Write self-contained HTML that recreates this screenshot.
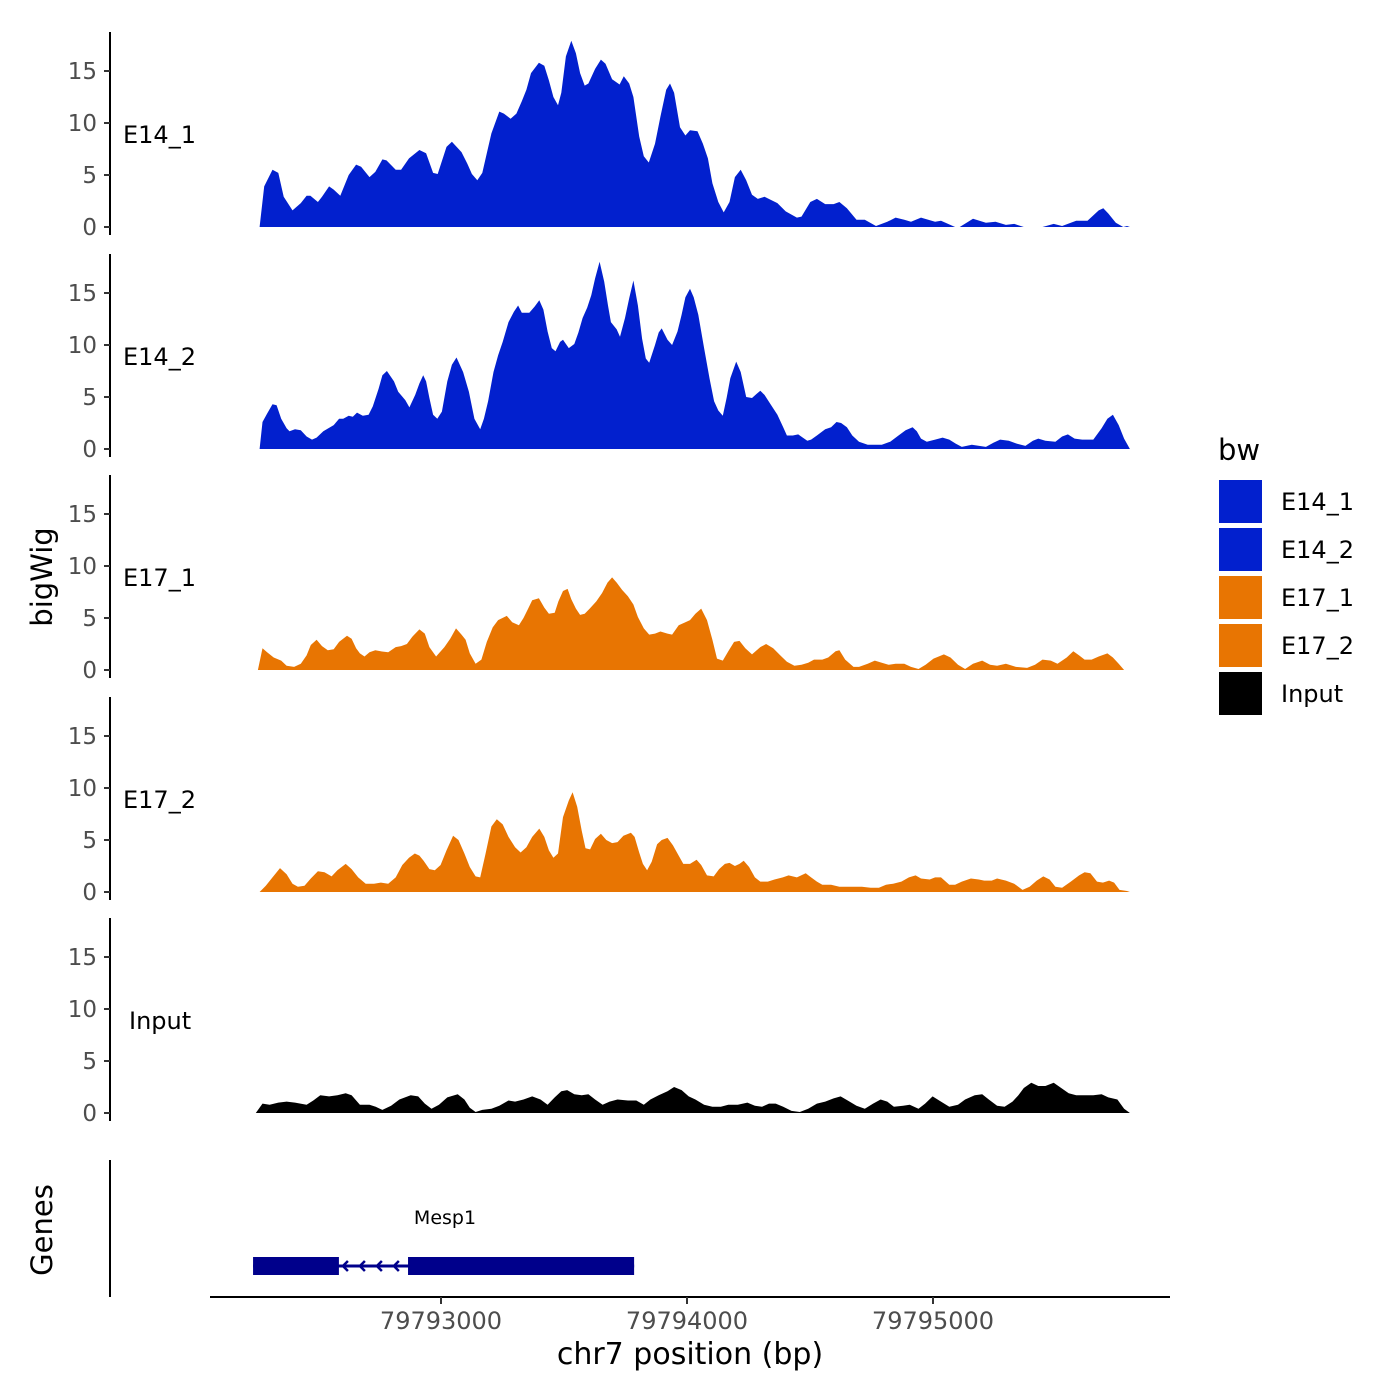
<!DOCTYPE html>
<html><head><meta charset="utf-8"><style>
body{margin:0;background:#fff}
svg{display:block;font-family:"DejaVu Sans","Liberation Sans",sans-serif}
</style></head><body>
<svg id="chart" width="1400" height="1400" viewBox="0 0 1400 1400">
<g id="tracks"></g>
<g id="axes"></g>
<text x="42" y="577" font-size="29" text-anchor="middle" transform="rotate(-90 42 577)" dy="10">bigWig</text>
<text x="42" y="1230" font-size="29" text-anchor="middle" transform="rotate(-90 42 1230)" dy="10">Genes</text>
<text x="690" y="1364" font-size="30" text-anchor="middle">chr7 position (bp)</text>
<g>
<text x="1218" y="460" font-size="29">bw</text>
<rect x="1219" y="480" width="43" height="43" fill="#0220ce"/>
<text x="1281" y="510" font-size="24">E14_1</text>
<rect x="1219" y="528" width="43" height="43" fill="#0220ce"/>
<text x="1281" y="558" font-size="24">E14_2</text>
<rect x="1219" y="576" width="43" height="43" fill="#e87502"/>
<text x="1281" y="606" font-size="24">E17_1</text>
<rect x="1219" y="624" width="43" height="43" fill="#e87502"/>
<text x="1281" y="654" font-size="24">E17_2</text>
<rect x="1219" y="672" width="43" height="43" fill="#000"/>
<text x="1281" y="702" font-size="24">Input</text>
</g>
</svg>
<script>
// positions are sample coordinates; converted to bp by toBp()
const origin = 79792000;
const trackNames = ["E14_1","E14_2","E17_1","E17_2","Input"];
const trackColors = ["#0220ce","#0220ce","#e87502","#e87502","#000000"];
const yTicks = [0,5,10,15];
const xTicks = [79793000,79794000,79795000];
const xTickLabels = ["79793000","79794000","79795000"];
const e14_1_pos = [247,258,278,292,305,326,346,360,369,387,397,414,425,441,461,479,491,511,525,542,552,574,587,606,631,647,664,675,696,709,732,746,757,770,782,793,804,823,834,850,864,877,888,899,918,931,942,953,964,972,983,996,1007,1017,1028,1037,1053,1067,1078,1094,1112,1122,1135,1145,1159,1170,1182,1197,1210,1224,1233,1243,1257,1270,1281,1299,1312,1324,1335,1349,1362,1376,1389,1403,1416,1430,1444,1460,1491,1511,1538,1549,1570,1586,1606,1626,1640,1658,1681,1701,1728,1755,1775,1796,1812,1836,1870,1884,1918,1929,1961,1992,2015,2040,2060,2083,2128,2155,2175,2209,2236,2263,2274,2286,2304,2322,2331,2338];
const e14_1_val = [0,3.9,5.5,5.2,2.9,1.6,2.3,3.0,3.0,2.4,2.9,3.9,3.6,3.0,5.0,6.0,5.8,4.8,5.3,6.5,6.4,5.5,5.5,6.6,7.4,7.1,5.2,5.1,7.7,8.2,7.2,6.1,5.1,4.5,5.2,7.1,9.0,11.1,10.9,10.4,10.9,12.1,13.2,14.8,15.8,15.5,14.1,12.5,11.7,12.9,16.4,17.9,16.7,14.8,13.6,13.8,15.2,16.1,15.7,14.2,13.7,14.5,13.8,12.5,8.7,6.8,6.2,8.0,10.6,13.2,13.8,12.9,9.6,8.8,9.3,9.2,8.0,6.6,4.2,2.4,1.4,2.4,4.8,5.5,4.5,3.1,2.7,2.9,2.3,1.5,0.9,1.0,2.4,2.7,2.2,2.2,2.4,1.8,0.7,0.7,0.1,0.5,0.9,0.7,0.5,0.9,0.5,0.6,0,0,0.8,0.4,0.5,0.2,0.3,0,0,0.3,0.1,0.6,0.6,1.6,1.8,1.3,0.4,0,0.1,0];
const e14_2_pos = [247,254,265,278,288,299,312,319,332,346,360,373,384,400,425,438,448,461,471,481,495,509,519,533,542,553,570,580,597,607,621,631,640,647,655,664,674,685,698,709,720,736,750,763,777,786,796,809,820,831,845,858,868,877,895,908,919,929,939,949,958,969,976,990,1003,1013,1023,1034,1044,1053,1064,1075,1084,1091,1105,1113,1125,1135,1145,1156,1166,1175,1183,1197,1206,1213,1227,1238,1251,1261,1270,1281,1290,1301,1315,1328,1339,1349,1360,1369,1378,1392,1403,1416,1430,1441,1450,1460,1473,1491,1505,1514,1528,1541,1552,1563,1572,1586,1606,1620,1633,1644,1658,1671,1687,1708,1728,1742,1762,1782,1799,1816,1826,1836,1850,1870,1888,1904,1920,1934,1958,1976,1992,2010,2026,2047,2067,2087,2105,2118,2135,2159,2175,2189,2205,2223,2250,2270,2284,2297,2311,2324,2338];
const e14_2_val = [0,2.6,3.4,4.3,4.2,2.9,2.0,1.7,1.9,1.8,1.2,0.9,1.1,1.7,2.3,2.9,2.9,3.2,3.1,3.5,3.2,3.3,4.1,5.8,7.1,7.5,6.5,5.5,4.7,4.0,5.2,6.3,7.1,6.5,4.9,3.3,2.9,3.6,6.5,8.1,8.8,7.4,5.5,2.9,1.9,2.9,4.6,7.4,9.0,10.3,12.2,13.2,13.8,13.1,13.1,13.7,14.3,13.4,11.3,9.7,9.4,10.3,10.5,9.7,10.1,11.2,12.6,13.6,14.8,16.4,18.0,16.1,13.8,12.2,11.5,10.8,12.6,14.5,16.2,13.8,10.6,8.7,8.3,10.0,11.2,11.6,10.5,10.0,11.3,12.9,14.6,15.4,14.6,12.9,9.7,6.8,4.6,3.7,3.2,4.9,6.8,8.4,7.4,5.0,4.9,5.3,5.6,5.2,4.4,3.3,2.1,1.3,1.3,1.4,1.1,0.8,0.9,1.3,1.9,2.1,2.6,2.5,2.1,1.3,0.7,0.4,0.4,0.4,0.7,1.3,1.8,2.1,1.7,1.0,0.7,0.9,1.1,0.9,0.5,0.2,0.4,0.3,0.2,0.6,0.9,0.8,0.5,0.3,0.8,1.0,0.8,0.7,1.2,1.4,1.0,0.9,0.9,2.0,2.9,3.3,2.3,1.0,0];
const e17_1_pos = [243,254,265,281,299,312,330,346,360,370,384,397,411,425,438,457,468,479,488,499,511,525,538,556,574,587,601,614,631,644,655,671,691,705,719,732,742,752,766,780,793,807,820,841,854,870,881,891,902,918,931,942,956,965,976,987,996,1007,1017,1028,1040,1056,1070,1083,1094,1105,1118,1132,1145,1156,1170,1183,1197,1210,1227,1238,1254,1270,1281,1294,1308,1322,1335,1346,1360,1373,1387,1400,1414,1430,1450,1464,1481,1498,1514,1532,1549,1565,1579,1599,1613,1631,1640,1654,1674,1687,1708,1725,1742,1758,1775,1796,1812,1830,1847,1866,1891,1907,1925,1942,1961,1983,2002,2019,2040,2064,2091,2110,2128,2148,2164,2186,2202,2216,2229,2246,2263,2284,2297,2311,2324];
const e17_1_val = [0,2.1,1.7,1.2,0.9,0.4,0.3,0.6,1.4,2.4,2.9,2.3,1.9,2.0,2.7,3.3,3.0,2.1,1.6,1.3,1.7,1.9,1.8,1.7,2.2,2.3,2.5,3.2,3.9,3.5,2.2,1.3,2.2,3.0,4.0,3.4,2.9,1.6,0.6,1.0,2.7,4.1,4.8,5.2,4.6,4.3,5.0,5.8,6.7,6.9,6.0,5.4,5.5,6.6,7.6,7.8,6.8,5.9,5.3,5.4,5.9,6.6,7.4,8.4,8.9,8.4,7.7,7.1,6.3,5.1,4.0,3.4,3.5,3.7,3.5,3.4,4.3,4.6,4.8,5.4,5.9,4.8,2.9,1.1,0.9,1.8,2.7,2.8,2.1,1.5,2.2,2.5,2.1,1.4,0.8,0.4,0.5,0.7,1.0,1.0,1.2,1.8,1.9,1.0,0.3,0.3,0.6,0.9,0.7,0.5,0.6,0.6,0.3,0.1,0.5,1.1,1.5,1.2,0.5,0.1,0.6,0.9,0.5,0.4,0.6,0.3,0.2,0.5,1.0,0.9,0.6,1.2,1.8,1.4,1.0,1.0,1.3,1.6,1.2,0.6,0];
const e17_2_pos = [247,262,278,296,312,326,339,355,370,387,403,420,434,454,468,484,502,522,538,556,574,590,606,620,631,641,655,668,682,696,712,725,739,752,766,777,790,804,817,831,845,861,874,888,902,919,931,942,953,964,976,990,999,1010,1021,1030,1041,1053,1067,1080,1094,1107,1121,1139,1148,1159,1168,1178,1189,1202,1213,1227,1240,1251,1265,1281,1297,1308,1322,1338,1351,1365,1376,1389,1400,1410,1423,1437,1450,1468,1484,1504,1518,1538,1559,1572,1586,1599,1620,1640,1667,1694,1715,1735,1752,1769,1789,1807,1823,1836,1857,1870,1884,1904,1918,1934,1956,1975,1988,2006,2019,2040,2060,2080,2097,2114,2130,2145,2159,2175,2196,2216,2229,2243,2259,2273,2288,2300,2313,2331,2338];
const e17_2_val = [0,0.6,1.4,2.3,1.7,0.8,0.5,0.6,1.3,2.0,1.9,1.5,2.1,2.7,2.2,1.4,0.8,0.8,0.9,0.8,1.4,2.6,3.3,3.7,3.5,3.0,2.2,2.1,2.6,4.0,5.4,5.0,3.7,2.4,1.5,1.4,3.7,6.3,7.0,6.5,5.3,4.3,3.8,4.3,5.3,6.1,5.3,4.0,3.3,3.7,7.2,8.8,9.6,8.2,5.9,4.2,4.1,5.1,5.6,5.0,4.7,4.8,5.4,5.7,5.3,3.8,2.7,2.1,2.9,4.6,5.0,5.2,4.5,3.7,2.7,2.7,3.1,2.6,1.6,1.5,2.2,2.7,2.8,2.5,2.7,3.0,2.4,1.4,1.0,1.0,1.2,1.4,1.6,1.4,1.8,1.4,1.0,0.7,0.7,0.5,0.5,0.5,0.4,0.4,0.7,0.8,1.0,1.4,1.6,1.3,1.2,1.4,1.4,0.7,0.7,1.0,1.3,1.2,1.1,1.1,1.3,1.1,0.8,0.2,0.5,1.1,1.5,1.2,0.5,0.4,1.0,1.6,1.9,1.8,1.0,0.9,1.1,0.9,0.2,0.1,0];
const input_pos = [238,254,271,292,312,332,360,376,393,414,434,454,468,488,511,526,542,563,583,610,628,644,660,678,698,723,739,752,766,782,804,823,845,861,881,902,922,939,956,972,986,1003,1021,1037,1053,1071,1088,1107,1132,1152,1170,1186,1206,1227,1243,1261,1278,1294,1315,1335,1355,1373,1396,1419,1437,1454,1471,1487,1505,1525,1545,1565,1586,1606,1626,1643,1660,1681,1701,1721,1739,1755,1771,1793,1809,1830,1846,1864,1884,1904,1925,1942,1965,1983,1999,2019,2037,2056,2070,2083,2101,2118,2135,2155,2173,2191,2209,2229,2250,2270,2286,2308,2324,2338];
const input_val = [0,0.9,0.8,1.0,1.1,1.0,0.8,1.2,1.7,1.6,1.7,1.9,1.7,0.8,0.8,0.6,0.3,0.7,1.3,1.7,1.6,0.9,0.4,0.8,1.5,1.8,1.3,0.5,0.1,0.3,0.4,0.7,1.2,1.1,1.3,1.6,1.3,0.8,1.5,2.1,2.2,1.8,1.7,1.8,1.3,0.8,1.1,1.3,1.2,1.2,0.8,1.3,1.7,2.1,2.5,2.2,1.6,1.3,0.8,0.6,0.6,0.8,0.8,1.0,0.7,0.6,0.9,0.9,0.6,0.2,0.1,0.4,0.9,1.1,1.4,1.6,1.2,0.7,0.4,0.9,1.3,1.1,0.6,0.7,0.8,0.4,0.9,1.6,1.1,0.6,0.8,1.3,1.7,1.8,1.3,0.7,0.6,1.1,1.7,2.4,2.9,2.6,2.6,2.9,2.4,1.9,1.7,1.7,1.7,1.8,1.5,1.3,0.4,0];
const geneName = "Mesp1";
const exonStartsBp = [79792236,79792866];
const exonEndsBp = [79792585,79793785];
const geneStartBp = 79792236, geneEndBp = 79793785;

const allPos = [e14_1_pos,e14_2_pos,e17_1_pos,e17_2_pos,input_pos];
const allVal = [e14_1_val,e14_2_val,e17_1_val,e17_2_val,input_val];

const NS = "http://www.w3.org/2000/svg";
const baselines = [227,449,670,892,1113];
const pxPerUnit = 10.4;
function toBp(p){ return origin + 223.6 + 1.692 * (p - 224); }
function xBp(bp){ return 441 + (bp - 79793000) * 0.246; }
function xScale(p){ return xBp(toBp(p)); }
function yScale(v, i){ return baselines[i] - v * pxPerUnit; }
function mk(tag, attrs, parent){ const e=document.createElementNS(NS,tag); for(const k in attrs) e.setAttribute(k,attrs[k]); parent.appendChild(e); return e; }

const tracks = document.getElementById('tracks');
const axes = document.getElementById('axes');
trackNames.forEach((name, i) => {
  const pos = allPos[i], val = allVal[i];
  let d = "M" + xScale(pos[0]).toFixed(1) + "," + yScale(0, i);
  for (let j = 0; j < pos.length; j++) d += "L" + xScale(pos[j]).toFixed(1) + "," + yScale(val[j], i).toFixed(1);
  d += "L" + xScale(pos[pos.length-1]).toFixed(1) + "," + yScale(0, i) + "Z";
  const p = mk('path', {d: d, fill: trackColors[i], 'stroke-linejoin':'round'}, tracks);
  
  
  const line = mk('line', {x1:110, x2:110, y1: baselines[i]-195, y2: baselines[i]+8, stroke:'#000', 'stroke-width':2}, axes);
  
  
  yTicks.forEach(t => {
    const y = yScale(t, i);
    const tk = mk('line', {x1:104, x2:110, y1:y, y2:y, stroke:'#333', 'stroke-width':2}, axes);
    
    
    const tl = mk('text', {x:97, y:y+8, 'font-size':23, fill:'#4d4d4d', 'text-anchor':'end'}, axes);
    tl.textContent = t;
    
    
  });
  const lab = mk('text', {x: name === 'Input' ? 129 : 123, y: baselines[i]-84, 'font-size':24}, axes);
  lab.textContent = name;
  
  
});

const ga = mk('line', {x1:110, x2:110, y1:1160, y2:1297, stroke:'#000', 'stroke-width':2}, axes);


const xa = mk('line', {x1:210, x2:1170, y1:1297, y2:1297, stroke:'#000', 'stroke-width':2}, axes);


xTicks.forEach((t, k) => {
  const x = xBp(t);
  const tk = mk('line', {x1:x, x2:x, y1:1297, y2:1304, stroke:'#333', 'stroke-width':2}, axes);
  
  
  const tl = mk('text', {x:x, y:1329, 'font-size':24, fill:'#4d4d4d', 'text-anchor':'middle'}, axes);
  tl.textContent = xTickLabels[k];
  
  
});
const gy = 1266;
const intron = mk('line', {x1:xBp(geneStartBp), x2:xBp(geneEndBp), y1:gy, y2:gy, stroke:'#00008b', 'stroke-width':3}, tracks);


for (let k = 0; k < exonStartsBp.length; k++) {
  const r = mk('rect', {x:xBp(exonStartsBp[k]), y:gy-9, width:xBp(exonEndsBp[k])-xBp(exonStartsBp[k]), height:18, fill:'#00008b'}, tracks);
  
  
}
const a0 = xBp(exonEndsBp[0]), a1 = xBp(exonStartsBp[1]);
for (let k = 0; k < 4; k++) {
  const ax = a0 + 4 + k * (a1 - a0 - 8) / 3.6;
  const ar = mk('path', {d:`M${ax+5},${gy-5}L${ax},${gy}L${ax+5},${gy+5}`, stroke:'#00008b', 'stroke-width':2.5, fill:'none'}, tracks);
  
  
}
const gl = mk('text', {x:445, y:1224, 'font-size':19, 'text-anchor':'middle'}, tracks);
gl.textContent = geneName;


</script>
</body></html>
